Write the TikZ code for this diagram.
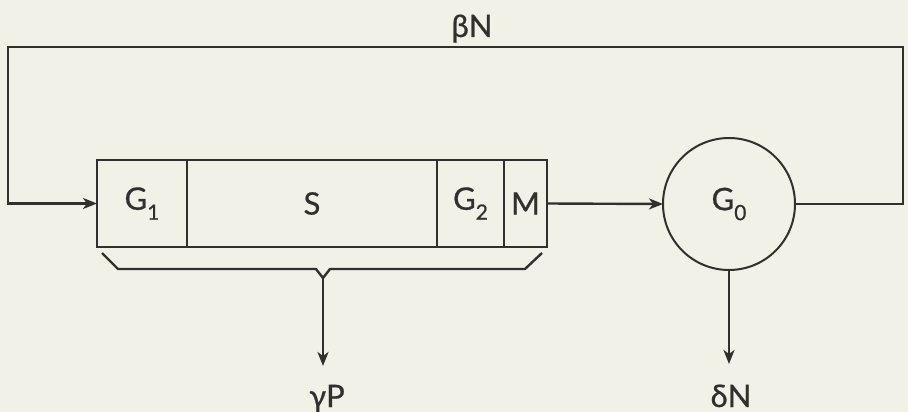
\documentclass[tikz,border=0pt]{standalone}
\usepackage{fontspec}
\setmainfont{Lato}[FakeBold=0.7]
\usetikzlibrary{arrows.meta}
\definecolor{bgcol}{RGB}{242,241,232}
\definecolor{ink}{RGB}{48,48,46}
\newcommand\bigtxt{\fontsize{31}{35}\selectfont}
\newcommand\subtxt[1]{\raisebox{-0.32em}{\fontsize{21}{23}\selectfont #1}}
\begin{document}
\begin{tikzpicture}[x=1pt,y=-1pt,
  every node/.style={font=\bigtxt, text=ink},
  cell/.style={draw=ink, line width=2.6pt, rectangle, minimum height=87pt, inner sep=0pt, outer sep=0pt},
  ring/.style={draw=ink, line width=2pt, circle, minimum size=132pt, inner sep=0pt, outer sep=0pt},
  wire/.style={draw=ink, line width=2.4pt},
  arr/.style={wire, -{Stealth[length=14pt,width=11pt,inset=4pt]}},
  lbl/.style={anchor=base}]
\fill[bgcol] (0,0) rectangle (908,412);
\useasboundingbox (0,0) rectangle (908,412);
% boxes
\node[cell, minimum width=90pt] (g1) at (142,203.5) {G\subtxt{1}};
\node[cell, minimum width=250pt] (s) at (312,203.5) {S};
\node[cell, minimum width=67pt] (g2) at (470.5,203.5) {G\subtxt{2}};
\node[cell, minimum width=43pt] (m) at (525.5,203.5) {M};
% circle
\node[ring] (g0) at (729,204) {G\subtxt{0}};
% feedback loop
\coordinate (tr) at (903,47);
\coordinate (tl) at (8,47);
\draw[arr] (g0.east) -| (tr) -- (tl) |- (g1.west);
\node[lbl] (beta) at (472,37) {βN};
% forward arrow
\draw[arr] (m.east) -- (g0.west);
% brace
\coordinate (b1) at (102,253);
\coordinate (b2) at (118,269);
\coordinate (b3) at (316,269);
\coordinate (bt) at (323,278);
\coordinate (b4) at (330,269);
\coordinate (b5) at (525,269);
\coordinate (b6) at (542,253);
\draw[wire, line join=round] (b1) -- (b2) -- (b3) -- (bt) -- (b4) -- (b5) -- (b6);
\coordinate (yend) at (323,366);
\draw[arr] (bt) -- (yend);
\node[lbl] (gp) at (327,407) {γP};
% delta
\coordinate (dend) at (729,364);
\draw[arr] (g0.south) -- (dend);
\node[lbl] (dn) at (731,407) {δN};
\end{tikzpicture}
\end{document}
